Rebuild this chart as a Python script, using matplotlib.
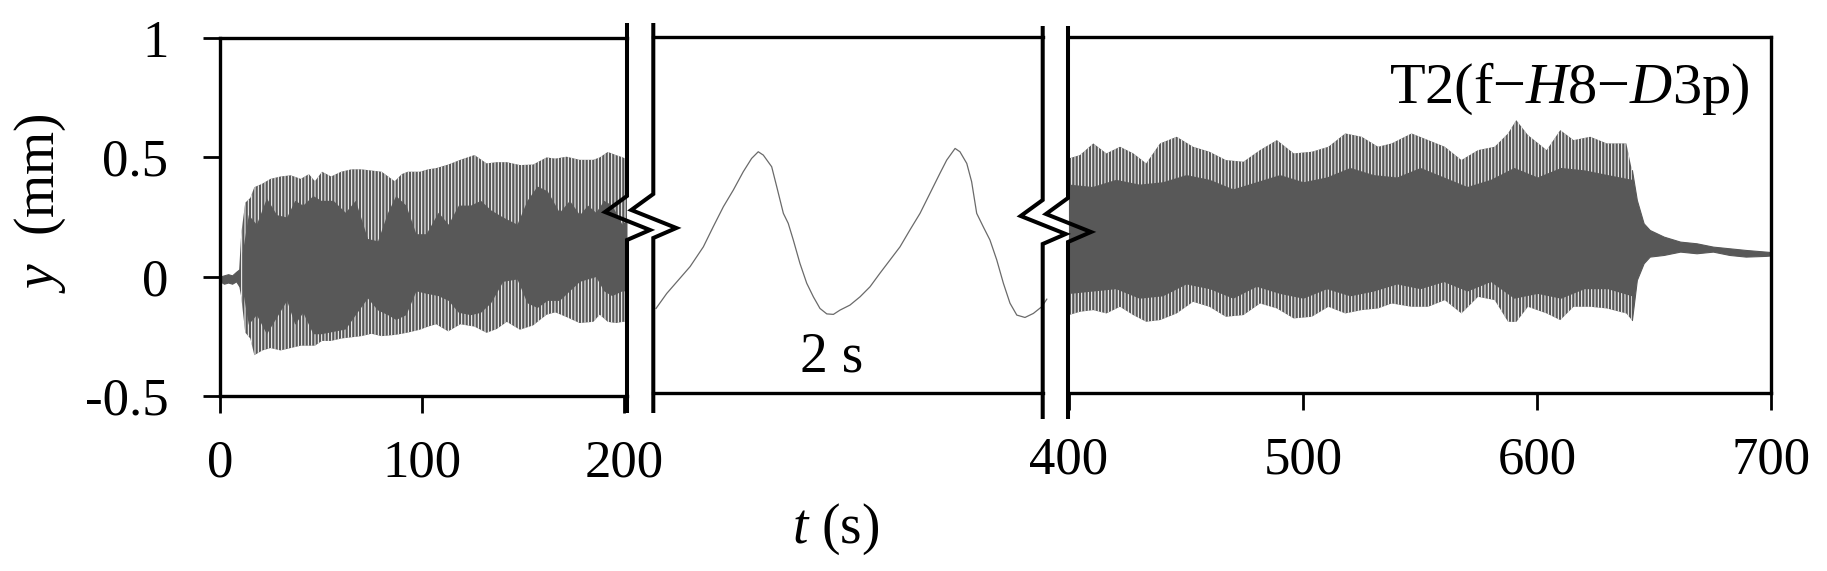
import matplotlib
matplotlib.use("Agg")
import matplotlib.pyplot as plt
from matplotlib.lines import Line2D

plt.rcParams['font.family'] = ['Liberation Serif', 'DejaVu Serif']
plt.rcParams['mathtext.fontset'] = 'custom'
plt.rcParams['mathtext.it'] = 'Liberation Serif:italic'
plt.rcParams['mathtext.rm'] = 'Liberation Serif'
plt.rcParams['axes.unicode_minus'] = False
plt.rcParams['hatch.linewidth'] = 0.75
plt.rcParams['hatch.color'] = 'white'

# ---- data ----
# 0-200 s, quiet start before shaking
quiet_t = [0, 2, 4, 6, 8, 9.5]
quiet_hi = [0.0, 0.005, 0.01, 0.005, 0.02, 0.03]
quiet_lo = [-0.02, -0.03, -0.025, -0.03, -0.02, -0.04]

# 0-200 s, envelope of the oscillation
left_t = [9.5, 10.5, 12.5, 15, 17, 21, 25, 30, 35, 40, 44, 47, 50.5, 55, 60, 65, 70, 75,
          80, 86.5, 90, 93, 99, 103, 107, 113, 119, 126, 132, 137, 142, 148.5, 155,
          161.7, 166, 171.6, 178, 184.8, 188, 192, 196, 199.5, 201.5]
left_hi = [0.03, 0.18, 0.31, 0.33, 0.375, 0.39, 0.41, 0.42, 0.425, 0.41, 0.43, 0.40, 0.44,
           0.42, 0.44, 0.45, 0.45, 0.445, 0.44, 0.40, 0.43, 0.44, 0.44, 0.45, 0.455, 0.47,
           0.49, 0.51, 0.475, 0.48, 0.48, 0.468, 0.47, 0.50, 0.495, 0.503, 0.49, 0.49,
           0.50, 0.523, 0.51, 0.50, 0.49]
left_lo = [-0.04, -0.085, -0.235, -0.26, -0.33, -0.31, -0.30, -0.31, -0.30, -0.29, -0.29,
           -0.29, -0.27, -0.27, -0.26, -0.255, -0.25, -0.24, -0.25, -0.245, -0.24, -0.235,
           -0.223, -0.21, -0.20, -0.23, -0.20, -0.21, -0.236, -0.22, -0.19, -0.223, -0.205,
           -0.16, -0.15, -0.17, -0.195, -0.19, -0.16, -0.19, -0.195, -0.19, -0.19]

# 0-200 s, dense (solid) core of the oscillation
left_core_t = [11, 14, 18, 23, 28, 33, 37, 41, 46, 50, 56, 62, 67, 73, 78, 83, 87, 92, 97,
               102, 108, 113, 118, 124, 129, 134, 140, 147, 152, 157, 162, 168, 173, 178,
               182, 186, 190, 194, 199, 201.5]
left_core_hi = [0.1, 0.26, 0.22, 0.33, 0.26, 0.25, 0.32, 0.3, 0.34, 0.32, 0.32, 0.27, 0.32,
                0.16, 0.15, 0.27, 0.34, 0.3, 0.18, 0.18, 0.27, 0.22, 0.3, 0.3, 0.32, 0.28,
                0.25, 0.22, 0.32, 0.38, 0.36, 0.27, 0.32, 0.26, 0.3, 0.27, 0.32, 0.3, 0.22, 0.24]
left_core_lo = [-0.05, -0.2, -0.16, -0.24, -0.17, -0.1, -0.2, -0.15, -0.24, -0.24, -0.23,
                -0.22, -0.16, -0.09, -0.14, -0.16, -0.18, -0.16, -0.06, -0.07, -0.08, -0.1,
                -0.15, -0.16, -0.15, -0.11, -0.02, -0.01, -0.11, -0.13, -0.1, -0.1, -0.06,
                -0.02, -0.01, 0.0, -0.06, -0.08, -0.06, -0.06]

# 2 s window in the middle
mid_t = [0.014, 0.069, 0.137, 0.189, 0.257, 0.308, 0.36, 0.411, 0.462, 0.505, 0.539, 0.565,
         0.608, 0.634, 0.668, 0.693, 0.719, 0.753, 0.788, 0.822, 0.856, 0.891, 0.925, 0.959,
         1.01, 1.062, 1.113, 1.164, 1.216, 1.267, 1.318, 1.37, 1.421, 1.472, 1.507, 1.55,
         1.575, 1.61, 1.635, 1.661, 1.695, 1.729, 1.764, 1.798, 1.832, 1.867, 1.909, 1.952,
         1.995, 2.021]
mid_y = [-0.143, -0.08, -0.016, 0.033, 0.116, 0.201, 0.285, 0.355, 0.432, 0.488, 0.516,
         0.502, 0.453, 0.369, 0.257, 0.215, 0.145, 0.047, -0.037, -0.094, -0.143, -0.166,
         -0.168, -0.15, -0.129, -0.094, -0.052, 0.005, 0.061, 0.116, 0.187, 0.257, 0.341,
         0.425, 0.481, 0.53, 0.516, 0.467, 0.39, 0.257, 0.2, 0.145, 0.061, -0.037, -0.121,
         -0.171, -0.181, -0.164, -0.136, -0.104]

# 400-700 s, envelope while shaking
right_t = [400, 404.7, 410.4, 416, 421.8, 427.5, 433, 438.9, 446, 453, 460, 467, 474.5,
           481.6, 488.8, 496, 503.7, 510.8, 518, 525, 532, 537.8, 546.3, 553.4, 560.5,
           567.6, 574.7, 581.8, 587.5, 591, 596, 604, 609.8, 615.5, 622.6, 629.7, 638, 640.4]
right_hi = [0.488, 0.502, 0.551, 0.509, 0.537, 0.509, 0.467, 0.551, 0.579, 0.537, 0.516,
            0.481, 0.474, 0.523, 0.565, 0.509, 0.516, 0.537, 0.593, 0.579, 0.537, 0.551,
            0.593, 0.565, 0.537, 0.481, 0.523, 0.537, 0.593, 0.649, 0.586, 0.523, 0.607,
            0.565, 0.579, 0.551, 0.551, 0.439]
right_lo = [-0.171, -0.157, -0.15, -0.164, -0.136, -0.171, -0.199, -0.192, -0.164, -0.115,
            -0.136, -0.178, -0.171, -0.122, -0.143, -0.185, -0.178, -0.136, -0.164, -0.15,
            -0.143, -0.122, -0.136, -0.136, -0.108, -0.164, -0.094, -0.108, -0.199, -0.2,
            -0.136, -0.164, -0.192, -0.136, -0.136, -0.143, -0.164, -0.192]

right_core_t = [400, 410, 420, 430, 440, 450, 460, 470, 480, 490, 500, 510, 520, 530, 540,
                550, 560, 570, 580, 590, 600, 610, 620, 630, 640.4]
right_core_hi = [0.38, 0.37, 0.40, 0.38, 0.39, 0.42, 0.40, 0.36, 0.39, 0.42, 0.39, 0.41,
                 0.45, 0.42, 0.41, 0.45, 0.41, 0.37, 0.40, 0.45, 0.41, 0.45, 0.44, 0.42, 0.40]
right_core_lo = [-0.08, -0.07, -0.06, -0.1, -0.09, -0.04, -0.06, -0.1, -0.05, -0.08,
                 -0.1, -0.06, -0.09, -0.07, -0.04, -0.06, -0.03, -0.07, -0.03, -0.1, -0.08,
                 -0.1, -0.06, -0.06, -0.09]

# free decay after shaking stops
tail_t = [640.4, 642.5, 645.4, 648, 654, 661, 668, 675, 682, 689, 697.5, 700]
tail_hi = [0.439, 0.313, 0.215, 0.187, 0.159, 0.138, 0.131, 0.117, 0.110, 0.103, 0.096, 0.094]
tail_lo = [-0.192, -0.023, 0.047, 0.075, 0.082, 0.096, 0.089, 0.096, 0.082, 0.075, 0.078, 0.080]

yticks = [-0.5, 0, 0.5, 1]
yticklabels = ['-0.5', '0', '0.5', '1']
left_xticks = [0, 100, 200]
right_xticks = [400, 500, 600, 700]

GRAY = '#585858'
W, H = 1827, 571

fig = plt.figure(figsize=(W / 100, H / 100), dpi=100)
ax1 = fig.add_axes([220 / W, (H - 395.7) / H, 407 / W, 357.4 / H])
ax2 = fig.add_axes([653.3 / W, (H - 393.3) / H, 389.4 / W, 356.6 / H])
ax3 = fig.add_axes([1068 / W, (H - 393.3) / H, 703.5 / W, 356.6 / H])

# oscillation bands: striped fringe + solid core
ax1.fill_between(quiet_t, quiet_lo, quiet_hi, color=GRAY, lw=0.8)
ax1.fill_between(left_t, left_lo, left_hi, facecolor=GRAY, edgecolor='white',
                 hatch='|||||', lw=0)
ax1.fill_between(left_core_t, left_core_lo, left_core_hi, color=GRAY, lw=0)

ax2.plot(mid_t, mid_y, color='#6a6a6a', lw=0.9, clip_on=False)

ax3.fill_between(right_t, right_lo, right_hi, facecolor=GRAY, edgecolor='white',
                 hatch='|||||', lw=0)
ax3.fill_between(right_core_t, right_core_lo, right_core_hi, color=GRAY, lw=0)
ax3.fill_between(tail_t, tail_lo, tail_hi, color=GRAY, lw=0.8)

ax1.set_xlim(0, 201.5)
ax2.set_xlim(0, 2)
ax3.set_xlim(399.6, 700)
for ax in (ax1, ax2, ax3):
    ax.set_ylim(-0.5, 1)
    for sp in ax.spines.values():
        sp.set_linewidth(2.4)
    ax.tick_params(direction='out', length=12.2, width=2, labelsize=38)
    ax.tick_params(axis='x', pad=19)
    ax.tick_params(axis='y', pad=25)

ax1.spines['right'].set_visible(False)
ax2.spines['left'].set_visible(False)
ax2.spines['right'].set_visible(False)
ax3.spines['left'].set_visible(False)

ax1.set_yticks(yticks)
ax1.set_yticklabels(yticklabels)
ax1.set_xticks(left_xticks)
ax1.set_xticklabels([str(v) for v in left_xticks])
ax2.set_xticks([])
ax2.set_yticks([])
ax3.set_yticks([])
ax3.set_xticks(right_xticks)
ax3.set_xticklabels([str(v) for v in right_xticks])


def draw_break(x_px, top_px, zig_px, bot_px):
    xs = [x_px, x_px, x_px - 22, x_px + 23, x_px, x_px]
    ys = [top_px, zig_px, zig_px + 16, zig_px + 34, zig_px + 44, bot_px]
    fig.add_artist(Line2D([x / W for x in xs], [1 - y / H for y in ys],
                          transform=fig.transFigure, color='black', lw=2.9,
                          solid_joinstyle='miter', solid_capstyle='butt'))


draw_break(ax1.get_position().x1 * W, 23, 196, 413)
draw_break(ax2.get_position().x0 * W, 23, 194, 413)
draw_break(ax2.get_position().x1 * W, 26, 200, 419)
draw_break(ax3.get_position().x0 * W, 26, 198, 419)

ax2.text(0.459, 0.06, '2 s', transform=ax2.transAxes, ha='center', va='baseline',
         fontsize=40)
ax3.text(0.968, 0.814, 'T2(f\u2212$H$8\u2212$D$3p)', transform=ax3.transAxes,
         ha='right', va='baseline', fontsize=42)
fig.text(836 / W, 1 - 543 / H, '$t$ (s)', ha='center', va='baseline', fontsize=40)
fig.text(40 / W, 1 - 203 / H, '$y$  (mm)', rotation=90, ha='center', va='center',
         fontsize=40)

fig.savefig('out.png', dpi=100)
